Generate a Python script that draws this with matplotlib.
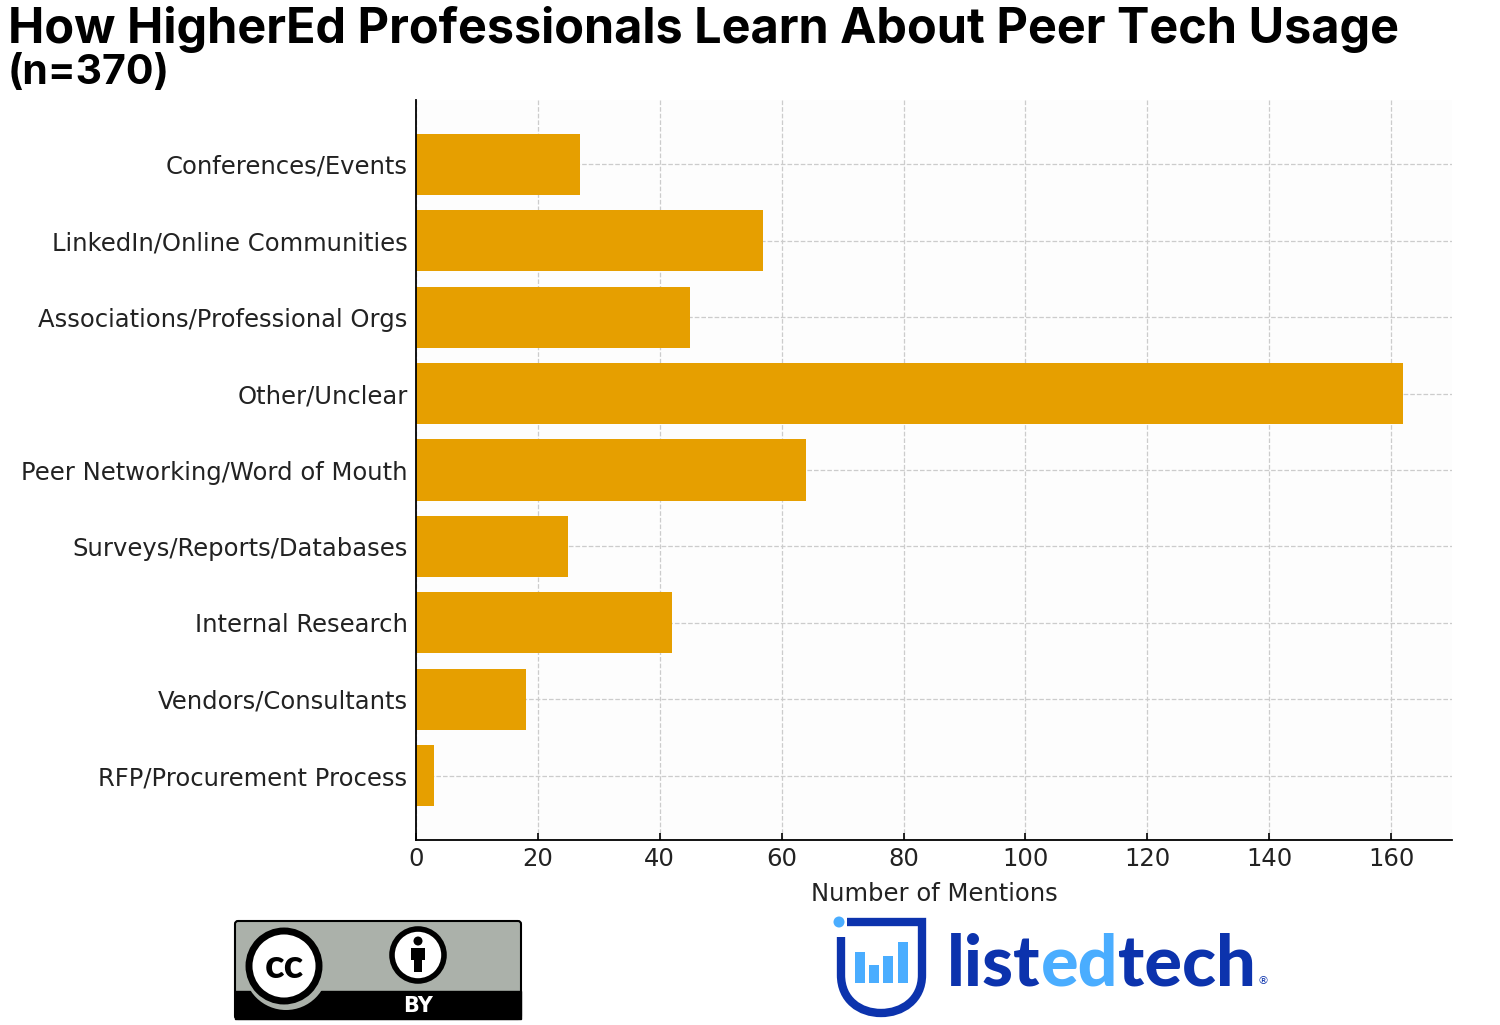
import numpy as np
import matplotlib.pyplot as plt
from matplotlib.patches import FancyBboxPatch, Circle, Rectangle
from matplotlib.path import Path
from matplotlib.patches import PathPatch

# Data
categories = ['Conferences/Events', 'LinkedIn/Online Communities', 'Associations/Professional Orgs',
              'Other/Unclear', 'Peer Networking/Word of Mouth', 'Surveys/Reports/Databases',
              'Internal Research', 'Vendors/Consultants', 'RFP/Procurement Process']
mentions = [27, 57, 45, 162, 64, 25, 42, 18, 3]
xticks = [0, 20, 40, 60, 80, 100, 120, 140, 160]

fig = plt.figure(figsize=(15, 10.25), dpi=100)
fig.patch.set_facecolor('white')

ax = fig.add_axes([0.2773, 0.1805, 0.6907, 0.7219])
ax.set_facecolor('#fdfdfd')
y = np.arange(len(categories))
ax.barh(y, mentions, height=0.8, color='#E69F00', zorder=2)
ax.set_yticks(y)
ax.set_yticklabels(categories, fontsize=17.5, color='#222222')
ax.invert_yaxis()
ax.set_xlim(0, 170)
ax.set_xticks(xticks)
ax.tick_params(axis='x', labelsize=17.5, labelcolor='#222222', pad=5)
ax.tick_params(axis='y', pad=6)
ax.tick_params(direction='in', length=5, width=1.2)
ax.set_xlabel('Number of Mentions', fontsize=17.5, color='#222222', labelpad=8)
ax.grid(True, linestyle='--', color='#cccccc', linewidth=0.9, zorder=0)
ax.set_axisbelow(True)
for s in ['top', 'right']:
    ax.spines[s].set_visible(False)
for s in ['left', 'bottom']:
    ax.spines[s].set_linewidth(1.3)

# Title
fig.text(8 / 1500, 1 - 6 / 1025, 'How HigherEd Professionals Learn About Peer Tech Usage',
         fontsize=35, fontweight='bold', family='Inter', va='top', ha='left')
fig.text(8 / 1500, 1 - 54 / 1025, '(n=370)', fontsize=29.5, fontweight='bold', family='Inter',
         va='top', ha='left')

# Overlay in pixel coords for logos
ov = fig.add_axes([0, 0, 1, 1], zorder=5)
ov.set_xlim(0, 1500)
ov.set_ylim(1025, 0)
ov.axis('off')

# CC BY badge
ov.add_patch(FancyBboxPatch((235, 921), 286, 98, boxstyle='round,pad=0,rounding_size=3',
                            facecolor='#abb1aa', edgecolor='black', linewidth=1.5))
ov.add_patch(Rectangle((235, 991), 286, 28, facecolor='black', edgecolor='black'))
ov.add_patch(Circle((286, 968), 42, facecolor='#abb1aa', edgecolor='none'))
ov.add_patch(Circle((284, 966), 35, facecolor='white', edgecolor='black', linewidth=5))
ov.text(284, 967, 'cc', fontsize=29, fontweight='black', ha='center', va='center',
        family='Lato')
ov.add_patch(Circle((418, 955), 26, facecolor='white', edgecolor='black', linewidth=4))
ov.add_patch(Circle((418, 941), 4.5, facecolor='black'))
ov.add_patch(Rectangle((411, 948), 14, 12, facecolor='black'))
ov.add_patch(Rectangle((414, 958), 8, 14, facecolor='black'))
ov.text(418, 1006, 'BY', fontsize=15, fontweight='bold', color='white', ha='center', va='center')

# listedtech logo
dark = '#0c33ad'
light = '#4aadff'
verts = [(847, 922), (922, 922), (922, 975), (922, 1000), (902, 1013), (881, 1013),
         (860, 1013), (841, 1000), (841, 975), (841, 937)]
codes = [Path.MOVETO, Path.LINETO, Path.LINETO, Path.CURVE4, Path.CURVE4, Path.CURVE4,
         Path.CURVE4, Path.CURVE4, Path.CURVE4, Path.LINETO]
ov.add_patch(PathPatch(Path(verts, codes), facecolor='none', edgecolor=dark, linewidth=6,
                       capstyle='butt', joinstyle='miter'))
ov.add_patch(Circle((839, 922), 5.5, facecolor=light, edgecolor='none'))
for x0, top in [(855, 952), (869, 965), (883, 956), (898, 942)]:
    ov.add_patch(Rectangle((x0, top), 9.5, 983 - top, facecolor=light, edgecolor='none'))

fig.canvas.draw()
r = fig.canvas.get_renderer()
inv = ov.transData.inverted()
xpos = 947
for part, col in [('list', dark), ('ed', light), ('tech', dark)]:
    t = ov.text(xpos, 985, part, fontsize=50.5, fontweight='black', family='Lato', color=col,
                ha='left', va='baseline')
    bb = t.get_window_extent(r)
    xpos = inv.transform((bb.x1, bb.y0))[0]
ov.text(xpos + 2, 984, '®', fontsize=8, color=dark, ha='left', va='baseline')

fig.savefig('out.png', dpi=100, facecolor='white')
